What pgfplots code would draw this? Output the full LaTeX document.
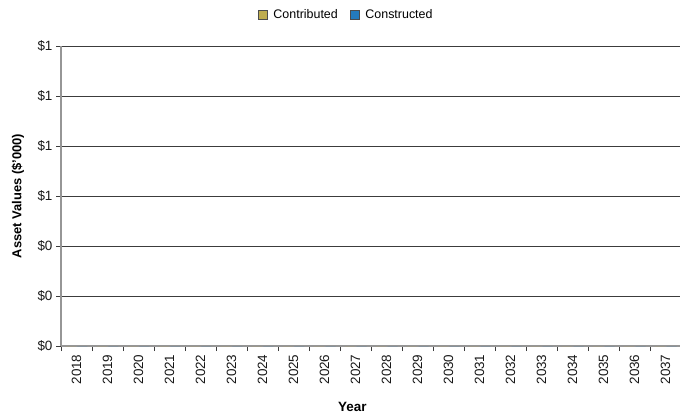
\documentclass[border=0pt]{standalone}
\usepackage{pgfplots}
\pgfplotsset{compat=1.18}
\usepackage{fontspec}
\setmainfont{Liberation Sans}
\definecolor{contrib}{RGB}{190,172,78}
\definecolor{constr}{RGB}{36,122,188}
\definecolor{gridc}{RGB}{60,60,60}
\definecolor{axisc}{RGB}{150,150,150}

\begin{document}
\begin{tikzpicture}
  \useasboundingbox (0,0) rectangle (680bp,418bp);
  \begin{axis}[
      at={(61bp,72bp)}, anchor=south west,
      scale only axis, width=620bp, height=300bp,
      ybar, bar width=10bp,
      xmin=-0.5, xmax=19.5, ymin=0, ymax=1.2,
      axis x line=bottom, axis y line=left,
      axis line style={-, draw=axisc, line width=1.4pt},
      xtick={0,...,19},
      xticklabels={2018,2019,2020,2021,2022,2023,2024,2025,2026,2027,2028,2029,2030,2031,2032,2033,2034,2035,2036,2037},
      major x tick style={draw=none},
      minor xtick={-0.5,0.5,...,19.5},
      minor x tick style={draw=gridc, line width=0.9pt},
      minor tick length=5bp,
      tick align=outside,
      xticklabel style={rotate=90, anchor=east, font=\fontsize{13.5}{15}\selectfont, text=black!90},
      ytick={0,0.2,0.4,0.6,0.8,1.0,1.2},
      yticklabels={\$0,\$0,\$0,\$1,\$1,\$1,\$1},
      major y tick style={draw=gridc, line width=0.9pt},
      major tick length=5bp,
      yticklabel style={font=\fontsize{13.5}{15}\selectfont, text=black!90},
      ymajorgrids, grid style={draw=gridc, line width=0.9pt},
      xlabel={\textbf{Year}}, ylabel={\textbf{Asset Values (\$'000)}},
      xlabel style={font=\fontsize{13.5}{15}\selectfont, at={(axis description cs:0.47,0)}, anchor=center, yshift=-61bp},
      ylabel style={font=\fontsize{13}{15}\selectfont, at={(axis description cs:0,0.5)}, anchor=center, yshift=43bp},
      legend columns=2,
      legend style={draw=none, at={(0.46,1)}, anchor=south, yshift=23bp,
        font=\fontsize{12.5}{14}\selectfont, inner sep=1bp,
        /tikz/every even column/.append style={column sep=10bp},
        /tikz/every odd column/.append style={column sep=4bp}},
      legend image code/.code={\draw[#1, draw=black!70, line width=0.6pt] (0bp,-4.5bp) rectangle (9bp,4.5bp);},
      clip=false,
    ]
    \addplot[fill=contrib, draw=none] coordinates {(0,0) (1,0) (2,0) (3,0) (4,0) (5,0) (6,0) (7,0) (8,0) (9,0) (10,0) (11,0) (12,0) (13,0) (14,0) (15,0) (16,0) (17,0) (18,0) (19,0)};
    \addplot[fill=constr, draw=none] coordinates {(0,0) (1,0) (2,0) (3,0) (4,0) (5,0) (6,0) (7,0) (8,0) (9,0) (10,0) (11,0) (12,0) (13,0) (14,0) (15,0) (16,0) (17,0) (18,0) (19,0)};
    \legend{Contributed, Constructed}
  \end{axis}
\end{tikzpicture}
\end{document}
